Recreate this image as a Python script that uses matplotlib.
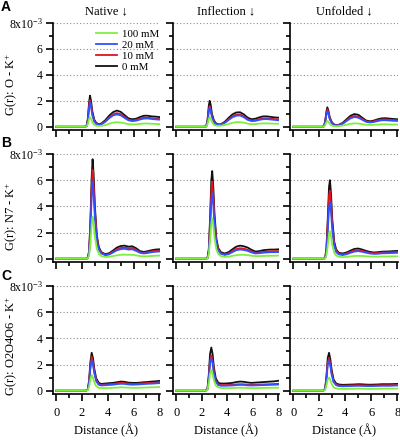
import matplotlib
matplotlib.use("Agg")
import matplotlib.pyplot as plt
from matplotlib.ticker import MultipleLocator

plt.rcParams['font.family'] = ['Liberation Serif', 'DejaVu Serif']
plt.rcParams['mathtext.fontset'] = 'custom'
plt.rcParams['mathtext.rm'] = 'Liberation Serif'
plt.rcParams['mathtext.it'] = 'Liberation Serif:italic'
plt.rcParams['mathtext.default'] = 'regular'

# ---------------- data (G(r) in units of 1e-3) ----------------
columns = ["Native \u2193", "Inflection \u2193", "Unfolded \u2193"]
rows = ["G(r): O - K$^{+}$", "G(r): N7 - K$^{+}$", "G(r): O2O4O6 - K$^{+}$"]
panel_letters = ["A", "B", "C"]
conc_labels = ["100 mM", "20 mM", "10 mM", "0 mM"]
conc_colors = ["#7ef03c", "#3050ff", "#e0141c", "#111111"]

xA = [0, 2.2, 2.35, 2.45, 2.55, 2.62, 2.7, 2.8, 2.95, 3.1, 3.3, 3.5, 3.8, 4.1, 4.4, 4.7, 5.0, 5.3, 5.6, 5.9, 6.2, 6.5, 6.8, 7.1, 7.4, 7.7, 8.0]
xB = [0, 2.3, 2.45, 2.55, 2.65, 2.75, 2.82, 2.9, 3.0, 3.15, 3.3, 3.5, 3.8, 4.1, 4.4, 4.7, 5.0, 5.3, 5.6, 5.9, 6.2, 6.5, 6.8, 7.1, 7.4, 7.7, 8.0]
xC = [0, 2.3, 2.45, 2.55, 2.65, 2.75, 2.85, 2.95, 3.1, 3.3, 3.5, 3.8, 4.1, 4.4, 4.7, 5.0, 5.3, 5.6, 5.9, 6.2, 6.5, 6.8, 7.1, 7.4, 7.7, 8.0]

# Row A: O - K+   (order: 100, 20, 10, 0 mM)
A_native = [
    [0, 0, 0.02, 0.2, 0.6, 0.75, 0.62, 0.35, 0.15, 0.08, 0.06, 0.07, 0.13, 0.23, 0.32, 0.35, 0.33, 0.27, 0.2, 0.18, 0.19, 0.22, 0.25, 0.25, 0.23, 0.22, 0.2],
    [0, 0, 0.04, 0.45, 1.5, 1.9, 1.55, 0.9, 0.4, 0.22, 0.15, 0.18, 0.38, 0.65, 0.87, 0.95, 0.88, 0.68, 0.5, 0.44, 0.47, 0.56, 0.63, 0.64, 0.6, 0.57, 0.55],
    [0, 0, 0.04, 0.5, 1.6, 2.05, 1.7, 1.0, 0.45, 0.25, 0.17, 0.2, 0.42, 0.72, 0.95, 1.05, 0.97, 0.75, 0.55, 0.48, 0.52, 0.62, 0.7, 0.7, 0.66, 0.63, 0.6],
    [0, 0, 0.05, 0.6, 1.9, 2.4, 2.0, 1.2, 0.55, 0.3, 0.2, 0.25, 0.5, 0.85, 1.12, 1.25, 1.15, 0.9, 0.65, 0.58, 0.62, 0.75, 0.85, 0.85, 0.8, 0.78, 0.75],
]
A_inflection = [
    [0, 0, 0.02, 0.2, 0.6, 0.75, 0.62, 0.36, 0.16, 0.09, 0.07, 0.08, 0.13, 0.22, 0.3, 0.35, 0.36, 0.31, 0.24, 0.2, 0.21, 0.24, 0.26, 0.26, 0.25, 0.24, 0.23],
    [0, 0, 0.03, 0.37, 1.2, 1.5, 1.25, 0.75, 0.37, 0.2, 0.14, 0.16, 0.3, 0.52, 0.73, 0.85, 0.87, 0.73, 0.53, 0.44, 0.46, 0.53, 0.58, 0.59, 0.56, 0.53, 0.5],
    [0, 0, 0.03, 0.4, 1.3, 1.6, 1.35, 0.8, 0.4, 0.22, 0.15, 0.17, 0.32, 0.57, 0.8, 0.93, 0.95, 0.8, 0.58, 0.48, 0.5, 0.58, 0.64, 0.65, 0.62, 0.59, 0.56],
    [0, 0, 0.04, 0.5, 1.6, 2.0, 1.7, 1.0, 0.5, 0.28, 0.18, 0.2, 0.38, 0.68, 0.95, 1.1, 1.12, 0.95, 0.7, 0.58, 0.62, 0.72, 0.8, 0.8, 0.76, 0.72, 0.7],
]
A_unfolded = [
    [0, 0, 0.01, 0.12, 0.35, 0.45, 0.38, 0.22, 0.1, 0.05, 0.04, 0.05, 0.09, 0.16, 0.23, 0.26, 0.25, 0.2, 0.15, 0.14, 0.15, 0.17, 0.19, 0.19, 0.18, 0.17, 0.17],
    [0, 0, 0.03, 0.3, 0.95, 1.2, 1.0, 0.6, 0.3, 0.15, 0.1, 0.12, 0.23, 0.45, 0.65, 0.75, 0.7, 0.54, 0.38, 0.33, 0.37, 0.44, 0.5, 0.5, 0.48, 0.46, 0.45],
    [0, 0, 0.03, 0.35, 1.05, 1.35, 1.1, 0.65, 0.33, 0.17, 0.11, 0.13, 0.26, 0.5, 0.72, 0.83, 0.78, 0.6, 0.42, 0.37, 0.42, 0.5, 0.56, 0.56, 0.54, 0.52, 0.5],
    [0, 0, 0.03, 0.4, 1.2, 1.5, 1.25, 0.75, 0.38, 0.2, 0.13, 0.15, 0.3, 0.58, 0.85, 0.98, 0.92, 0.7, 0.48, 0.42, 0.48, 0.58, 0.65, 0.66, 0.63, 0.6, 0.58],
]

# Row B: N7 - K+
B_native = [
    [0, 0, 0.02, 0.25, 1.2, 2.6, 3.2, 2.7, 1.7, 0.75, 0.38, 0.2, 0.13, 0.15, 0.2, 0.26, 0.3, 0.31, 0.3, 0.3, 0.26, 0.2, 0.18, 0.19, 0.21, 0.23, 0.24],
    [0, 0, 0.04, 0.45, 2.2, 4.8, 5.9, 5.0, 3.1, 1.4, 0.7, 0.4, 0.27, 0.32, 0.47, 0.64, 0.73, 0.76, 0.7, 0.72, 0.6, 0.45, 0.4, 0.44, 0.5, 0.53, 0.55],
    [0, 0, 0.04, 0.5, 2.5, 5.5, 6.8, 5.8, 3.6, 1.6, 0.8, 0.45, 0.3, 0.36, 0.53, 0.72, 0.82, 0.85, 0.8, 0.82, 0.68, 0.5, 0.45, 0.5, 0.56, 0.6, 0.62],
    [0, 0, 0.05, 0.6, 2.8, 6.2, 7.6, 6.5, 4.0, 1.8, 0.9, 0.5, 0.35, 0.42, 0.62, 0.85, 0.97, 1.0, 0.92, 0.95, 0.8, 0.58, 0.52, 0.58, 0.65, 0.7, 0.72],
]
B_inflection = [
    [0, 0, 0.02, 0.3, 1.4, 2.7, 3.1, 2.6, 1.6, 0.7, 0.35, 0.2, 0.14, 0.16, 0.22, 0.27, 0.3, 0.3, 0.27, 0.23, 0.2, 0.2, 0.21, 0.22, 0.23, 0.23, 0.24],
    [0, 0, 0.04, 0.5, 2.2, 4.4, 5.0, 4.2, 2.6, 1.1, 0.6, 0.37, 0.29, 0.35, 0.5, 0.65, 0.7, 0.67, 0.6, 0.48, 0.4, 0.42, 0.46, 0.48, 0.5, 0.5, 0.51],
    [0, 0, 0.04, 0.6, 2.6, 5.2, 5.9, 4.9, 3.0, 1.3, 0.7, 0.42, 0.33, 0.4, 0.57, 0.74, 0.8, 0.77, 0.68, 0.55, 0.45, 0.47, 0.52, 0.55, 0.56, 0.57, 0.58],
    [0, 0, 0.05, 0.7, 3.0, 6.0, 6.7, 5.6, 3.4, 1.5, 0.8, 0.5, 0.4, 0.5, 0.72, 0.92, 1.0, 0.95, 0.85, 0.68, 0.55, 0.58, 0.65, 0.68, 0.7, 0.7, 0.72],
]
B_unfolded = [
    [0, 0, 0.02, 0.25, 1.0, 1.9, 2.1, 1.7, 1.05, 0.45, 0.25, 0.15, 0.12, 0.14, 0.18, 0.21, 0.22, 0.21, 0.19, 0.17, 0.16, 0.16, 0.17, 0.17, 0.18, 0.18, 0.18],
    [0, 0, 0.04, 0.55, 2.1, 3.9, 4.3, 3.6, 2.2, 0.95, 0.5, 0.33, 0.28, 0.34, 0.45, 0.55, 0.58, 0.53, 0.46, 0.4, 0.37, 0.38, 0.41, 0.42, 0.43, 0.44, 0.45],
    [0, 0, 0.04, 0.7, 2.6, 4.8, 5.2, 4.3, 2.6, 1.1, 0.6, 0.38, 0.33, 0.4, 0.52, 0.63, 0.66, 0.6, 0.52, 0.45, 0.42, 0.43, 0.47, 0.48, 0.49, 0.5, 0.52],
    [0, 0, 0.05, 0.8, 3.0, 5.5, 6.0, 5.0, 3.0, 1.3, 0.7, 0.45, 0.4, 0.48, 0.62, 0.75, 0.78, 0.7, 0.6, 0.52, 0.48, 0.5, 0.54, 0.55, 0.56, 0.58, 0.6],
]

# Row C: O2O4O6 - K+
C_native = [
    [0, 0, 0.03, 0.3, 0.85, 1.2, 1.0, 0.65, 0.35, 0.22, 0.2, 0.2, 0.21, 0.22, 0.24, 0.26, 0.25, 0.23, 0.22, 0.22, 0.23, 0.24, 0.25, 0.26, 0.27, 0.28],
    [0, 0, 0.07, 0.6, 1.7, 2.35, 2.0, 1.35, 0.72, 0.45, 0.4, 0.42, 0.44, 0.46, 0.5, 0.53, 0.52, 0.48, 0.46, 0.47, 0.49, 0.51, 0.53, 0.54, 0.56, 0.58],
    [0, 0, 0.08, 0.7, 1.9, 2.6, 2.2, 1.5, 0.8, 0.5, 0.45, 0.47, 0.5, 0.52, 0.56, 0.6, 0.58, 0.54, 0.52, 0.52, 0.55, 0.57, 0.59, 0.6, 0.62, 0.65],
    [0, 0, 0.1, 0.8, 2.2, 2.9, 2.5, 1.7, 0.95, 0.6, 0.52, 0.55, 0.58, 0.6, 0.65, 0.7, 0.68, 0.62, 0.6, 0.6, 0.62, 0.65, 0.67, 0.7, 0.72, 0.75],
]
C_inflection = [
    [0, 0, 0.06, 0.55, 1.3, 1.6, 1.3, 0.8, 0.4, 0.25, 0.21, 0.2, 0.2, 0.21, 0.22, 0.23, 0.22, 0.21, 0.2, 0.2, 0.21, 0.21, 0.22, 0.22, 0.23, 0.23],
    [0, 0, 0.1, 0.9, 2.1, 2.5, 2.1, 1.3, 0.67, 0.42, 0.38, 0.38, 0.39, 0.4, 0.43, 0.45, 0.44, 0.41, 0.4, 0.41, 0.42, 0.43, 0.44, 0.45, 0.46, 0.47],
    [0, 0, 0.12, 1.0, 2.3, 2.7, 2.3, 1.45, 0.75, 0.48, 0.43, 0.43, 0.44, 0.45, 0.48, 0.5, 0.49, 0.46, 0.45, 0.46, 0.47, 0.48, 0.49, 0.5, 0.51, 0.53],
    [0, 0, 0.15, 1.2, 2.8, 3.3, 2.8, 1.8, 0.95, 0.6, 0.55, 0.55, 0.57, 0.6, 0.66, 0.7, 0.68, 0.63, 0.6, 0.62, 0.64, 0.66, 0.68, 0.7, 0.72, 0.76],
]
C_unfolded = [
    [0, 0, 0.05, 0.4, 0.85, 1.0, 0.82, 0.52, 0.27, 0.17, 0.15, 0.14, 0.14, 0.15, 0.15, 0.16, 0.15, 0.15, 0.14, 0.15, 0.15, 0.15, 0.16, 0.16, 0.16, 0.16],
    [0, 0, 0.12, 0.85, 2.0, 2.3, 1.9, 1.25, 0.66, 0.42, 0.36, 0.34, 0.35, 0.36, 0.37, 0.38, 0.37, 0.36, 0.35, 0.36, 0.37, 0.38, 0.38, 0.38, 0.39, 0.4],
    [0, 0, 0.13, 0.95, 2.15, 2.5, 2.05, 1.35, 0.72, 0.46, 0.4, 0.38, 0.39, 0.4, 0.41, 0.42, 0.41, 0.4, 0.39, 0.4, 0.41, 0.42, 0.42, 0.42, 0.43, 0.44],
    [0, 0, 0.15, 1.1, 2.5, 2.9, 2.4, 1.6, 0.85, 0.55, 0.48, 0.45, 0.46, 0.47, 0.48, 0.5, 0.49, 0.47, 0.46, 0.47, 0.48, 0.5, 0.5, 0.5, 0.51, 0.52],
]

row_x = [xA, xB, xC]
panels = [[A_native, A_inflection, A_unfolded],
          [B_native, B_inflection, B_unfolded],
          [C_native, C_inflection, C_unfolded]]

x_ticks = [0, 2, 4, 6, 8]
y_ticks = [0, 2, 4, 6, 8]
y_ticklabels = ["0", "2", "4", "6", "8x10$^{-3}$"]
grid_levels = [2, 4, 6, 8]

# ---------------- layout (pixels) ----------------
W, H = 400, 440
fig = plt.figure(figsize=(W / 100, H / 100), dpi=100)

col_px = [(53, 160), (173, 279), (290, 398)]
row_px = [(23, 130), (154, 262), (286, 394)]

def add_ax(c, r):
    x0, x1 = col_px[c]
    y0, y1 = row_px[r]
    return fig.add_axes([x0 / W, 1 - y1 / H, (x1 - x0) / W, (y1 - y0) / H])

for r in range(3):
    for c in range(3):
        ax = add_ax(c, r)
        ax.set_xlim(-0.25, 8.05)
        ax.set_ylim(-0.25, 8.0)
        for lev in grid_levels:
            ax.axhline(lev, color="#8c8c8c", lw=0.8, ls=(0, (1, 2)), zorder=0)
        series = panels[r][c]
        for k in [3, 2, 1, 0]:
            ax.plot(row_x[r], series[k], color=conc_colors[k], lw=1.3,
                    label=conc_labels[k], solid_joinstyle="round", zorder=2 + (3 - k))
        for s in ["top", "right"]:
            ax.spines[s].set_visible(False)
        for s in ["left", "bottom"]:
            ax.spines[s].set_linewidth(1.2)
        ax.set_xticks(x_ticks)
        ax.xaxis.set_minor_locator(MultipleLocator(1))
        ax.yaxis.set_minor_locator(MultipleLocator(1))
        ax.tick_params(which="major", direction="out", length=5, width=1.2, labelsize=9, pad=2.5)
        ax.tick_params(which="minor", direction="out", length=3, width=1.2)
        ax.set_yticks(y_ticks)
        if c == 0:
            ax.set_yticklabels(y_ticklabels)
            ax.tick_params(axis="y", labelsize=8.5)
        else:
            ax.set_yticklabels([])
        if r == 2:
            ax.set_xticklabels([str(t) for t in x_ticks])
            ax.tick_params(axis="x", pad=4)
            ax.set_xlabel("Distance (\u00c5)", fontsize=9, labelpad=4)
        else:
            ax.set_xticklabels([])
        if r == 0:
            ax.set_title(columns[c], fontsize=9, pad=6)
        if r == 0 and c == 0:
            h, l = ax.get_legend_handles_labels()
            order = [3, 2, 1, 0]
            ax.legend([h[i] for i in order], [l[i] for i in order],
                      loc="upper left", bbox_to_anchor=(0.40, 0.94), frameon=False,
                      fontsize=7.8, handlelength=2.0, handletextpad=0.4,
                      labelspacing=0.12, borderpad=0, borderaxespad=0)

# row labels
row_label_y = [84, 216, 346]
for r in range(3):
    fig.text(12 / W, 1 - row_label_y[r] / H, rows[r], rotation=90,
             ha="center", va="center", fontsize=9)

# panel letters
letter_y = [7, 143, 276]
for r in range(3):
    fig.text(6 / W, 1 - letter_y[r] / H, panel_letters[r], ha="center", va="center",
             fontsize=10, fontweight="bold", family=["Liberation Sans", "DejaVu Sans"])

fig.savefig("out.png", dpi=100)
